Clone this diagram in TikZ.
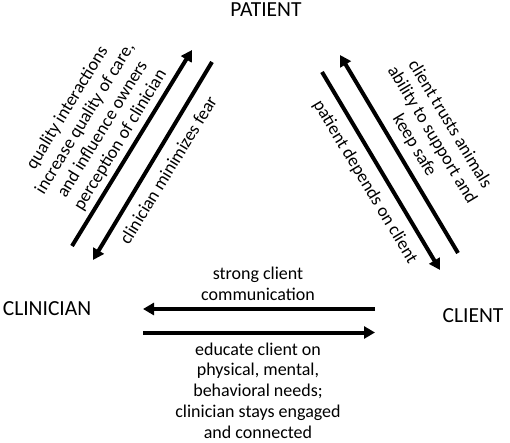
\documentclass[tikz,border=0pt]{standalone}
\usepackage{fontspec}
\setmainfont{Carlito}
\usetikzlibrary{arrows.meta}
\begin{document}
\begin{tikzpicture}[x=1pt,y=-1pt,
  conn/.style={line width=4pt,-{Triangle[length=11pt,width=12pt]}},
  role/.style={font=\fontsize{21.5}{25}\selectfont,inner sep=0pt},
  lbl/.style={font=\fontsize{18}{20.7}\selectfont,align=center,inner sep=0pt}]
\useasboundingbox (0,0) rectangle (510,443);
% role labels
\node[role] (patient) at (266,10) {PATIENT};
\node[role] (clinician) at (47,309) {CLINICIAN};
\node[role] (client) at (473,315.5) {CLIENT};
% arrow end points
\coordinate (a1s) at (72,246);  \coordinate (a1e) at (192,50);
\coordinate (a2s) at (212,62);  \coordinate (a2e) at (93,260);
\coordinate (a3s) at (458,253); \coordinate (a3e) at (340,55);
\coordinate (a4s) at (322,72);  \coordinate (a4e) at (440,270);
\coordinate (a5s) at (375,309); \coordinate (a5e) at (143,309);
\coordinate (a6s) at (143,332.5); \coordinate (a6e) at (375,332.5);
\draw[conn] (a1s) -- (a1e);
\draw[conn] (a2s) -- (a2e);
\draw[conn] (a3s) -- (a3e);
\draw[conn] (a4s) -- (a4e);
\draw[conn] (a5s) -- (a5e);
\draw[conn] (a6s) -- (a6e);
% texts
\node[lbl,rotate=58.5] (t1) at (94,124) {quality interactions\\increase quality of care,\\and influence owners\\perception of clinician};
\node[lbl,rotate=58.5] (t2) at (168,170) {clinician minimizes fear};
\node[lbl,rotate=-59] (t3) at (432,135) {client trusts animals\\ability to support and\\keep safe};
\node[lbl,rotate=-59] (t4) at (365,182) {patient depends on client};
\node[lbl] (t5) at (258,283.5) {strong client\\communication};
\node[lbl] (t6) at (258,390.5) {educate client on\\physical, mental,\\behavioral needs;\\clinician stays engaged\\and connected};
\end{tikzpicture}
\end{document}
